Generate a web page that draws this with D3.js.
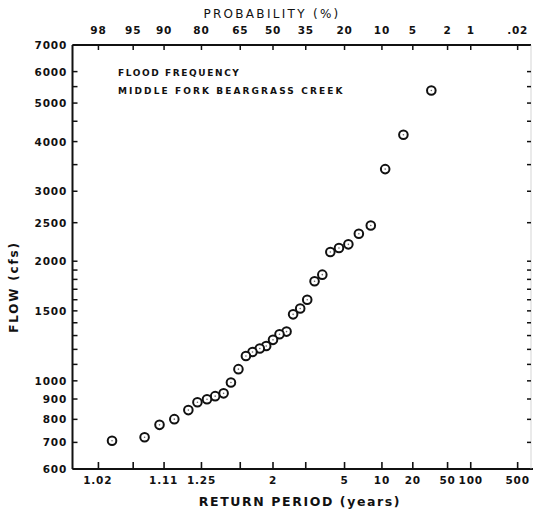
<!DOCTYPE html>
<html>
<head>
<meta charset="utf-8">
<script src="https://cdn.jsdelivr.net/npm/d3@7"></script>
<style>
  body { margin: 0; background: #fff; }
  text { font-family: "DejaVu Sans", sans-serif; font-weight: bold; fill: #111; }
</style>
</head>
<body>
<div class="chart"></div>
<script>
"use strict";

// return period (years) of each ranked flood
var returnPeriod = [32, 16, 10.7, 8, 6.4, 5.33, 4.57, 4, 3.56, 3.2, 2.91, 2.67, 2.46, 2.29, 2.13,
                    2, 1.88, 1.78, 1.68, 1.6, 1.52, 1.45, 1.39, 1.33, 1.28, 1.23, 1.19, 1.14, 1.1, 1.07, 1.03];
// annual peak flow (cfs)
var flow = [5380, 4160, 3410, 2460, 2345, 2205, 2160, 2110, 1850, 1780, 1600, 1520, 1470, 1330, 1310,
            1268, 1224, 1206, 1182, 1155, 1070, 990, 930, 915, 899, 883, 844, 801, 775, 721, 707];

var probTicks = [98, 95, 90, 80, 65, 50, 35, 20, 10, 5, 2, 1, 0.2];
var probLabels = ["98", "95", "90", "80", "65", "50", "35", "20", "10", "5", "2", "1", ".02"];
var periodTicks = [1.02, 1.11, 1.25, 2, 5, 10, 20, 50, 100, 500];
var periodLabels = ["1.02", "1.11", "1.25", "2", "5", "10", "20", "50", "100", "500"];
var flowTicks = [600, 700, 800, 900, 1000, 1500, 2000, 2500, 3000, 4000, 5000, 6000, 7000];
var flowMinor = [1100, 1200, 1300, 1400, 1600, 1700, 1800, 1900, 3500, 4500, 5500];

var width = 534,
    height = 514;
var plotLeft = 72.5, plotRight = 531, plotTop = 45, plotBottom = 469;

// inverse standard normal (Acklam)
function normInv(p) {
  var a = [-39.69683028665376, 220.9460984245205, -275.9285104469687, 138.3577518672690, -30.66479806614716, 2.506628277459239],
      b = [-54.47609879822406, 161.5858368580409, -155.6989798598866, 66.80131188771972, -13.28068155288572],
      c = [-0.007784894002430293, -0.3223964580411365, -2.400758277161838, -2.549732539343734, 4.374664141464968, 2.938163982698783],
      d = [0.007784695709041462, 0.3224671290700398, 2.445134137142996, 3.754408661907416];
  var q, r;
  if (p < 0.02425) {
    q = Math.sqrt(-2 * Math.log(p));
    return (((((c[0]*q+c[1])*q+c[2])*q+c[3])*q+c[4])*q+c[5]) / ((((d[0]*q+d[1])*q+d[2])*q+d[3])*q+1);
  }
  if (p > 1 - 0.02425) {
    q = Math.sqrt(-2 * Math.log(1 - p));
    return -(((((c[0]*q+c[1])*q+c[2])*q+c[3])*q+c[4])*q+c[5]) / ((((d[0]*q+d[1])*q+d[2])*q+d[3])*q+1);
  }
  q = p - 0.5; r = q * q;
  return (((((a[0]*r+a[1])*r+a[2])*r+a[3])*r+a[4])*r+a[5])*q / (((((b[0]*r+b[1])*r+b[2])*r+b[3])*r+b[4])*r+1);
}

// probability paper: position is normal quantile of non-exceedance
var zScale = d3.scaleLinear()
    .domain([-200.5 / 85, 258 / 85])
    .range([plotLeft, plotRight]);
function xT(T) { return zScale(normInv(1 - 1 / T)); }
function xP(P) { return zScale(normInv(1 - P / 100)); }

var y = d3.scaleLog()
    .domain([600, 7000])
    .range([plotBottom, plotTop]);

var svg = d3.select(".chart")
    .append("svg")
    .attr("width", width)
    .attr("height", height);

// frame
svg.append("line")
    .attr("x1", plotLeft).attr("x2", plotLeft).attr("y1", plotTop).attr("y2", plotBottom)
    .attr("stroke", "#111").attr("stroke-width", 2);
svg.append("line")
    .attr("x1", plotLeft).attr("x2", plotRight + 2).attr("y1", plotBottom).attr("y2", plotBottom)
    .attr("stroke", "#111").attr("stroke-width", 2);
svg.append("line")
    .attr("x1", plotLeft).attr("x2", plotRight).attr("y1", plotTop).attr("y2", plotTop)
    .attr("stroke", "#111").attr("stroke-width", 1.8);
svg.append("line")
    .attr("x1", plotRight).attr("x2", plotRight).attr("y1", plotTop).attr("y2", plotBottom)
    .attr("stroke", "#bbb").attr("stroke-width", 0.6);

// bottom & top ticks
svg.append("g").selectAll("line")
    .data(probTicks).enter().append("line")
    .attr("x1", xP).attr("x2", xP)
    .attr("y1", plotBottom).attr("y2", plotBottom - 7)
    .attr("stroke", "#111").attr("stroke-width", 1.6);
svg.append("g").selectAll("line")
    .data(probTicks).enter().append("line")
    .attr("x1", xP).attr("x2", xP)
    .attr("y1", plotTop).attr("y2", plotTop + 5)
    .attr("stroke", "#111").attr("stroke-width", 1.5);

svg.append("g").selectAll("text")
    .data(periodTicks).enter().append("text")
    .attr("x", xT)
    .attr("y", 484)
    .attr("text-anchor", "middle")
    .style("font-size", "10.5px")
    .style("letter-spacing", "0.8px")
    .text(function(d, i){ return periodLabels[i]; });

svg.append("g").selectAll("text")
    .data(probTicks).enter().append("text")
    .attr("x", xP)
    .attr("y", 34)
    .attr("text-anchor", "middle")
    .style("font-size", "10.5px")
    .style("letter-spacing", "0.8px")
    .text(function(d, i){ return probLabels[i]; });

// left & right ticks
svg.append("g").selectAll("line")
    .data(flowTicks.concat(flowMinor)).enter().append("line")
    .attr("x1", plotLeft).attr("x2", plotLeft + 5)
    .attr("y1", y).attr("y2", y)
    .attr("stroke", "#111").attr("stroke-width", 1.5);
svg.append("g").selectAll("line")
    .data(flowTicks.slice(1, -1).concat(flowMinor)).enter().append("line")
    .attr("x1", plotRight - 4).attr("x2", plotRight)
    .attr("y1", y).attr("y2", y)
    .attr("stroke", "#111").attr("stroke-width", 1.5);

svg.append("g").selectAll("text")
    .data(flowTicks).enter().append("text")
    .attr("x", 67)
    .attr("y", function(d){ return y(d) + 4; })
    .attr("text-anchor", "end")
    .style("font-size", "10.5px")
    .style("letter-spacing", "0.8px")
    .text(function(d){ return d; });

// axis titles
svg.append("text")
    .attr("x", 272).attr("y", 18)
    .attr("text-anchor", "middle")
    .style("font-size", "12px")
    .style("font-weight", "normal")
    .style("letter-spacing", "2.3px")
    .text("PROBABILITY (%)");

svg.append("text")
    .attr("x", 300).attr("y", 506)
    .attr("text-anchor", "middle")
    .style("font-size", "12.5px")
    .style("letter-spacing", "1.6px")
    .text("RETURN PERIOD (years)");

svg.append("text")
    .attr("transform", "translate(18,287) rotate(-90)")
    .attr("text-anchor", "middle")
    .style("font-size", "12px")
    .style("letter-spacing", "1.8px")
    .text("FLOW (cfs)");

// annotation
svg.append("text")
    .attr("x", 118).attr("y", 76)
    .style("font-size", "9px")
    .style("letter-spacing", "1.6px")
    .text("FLOOD FREQUENCY");
svg.append("text")
    .attr("x", 118).attr("y", 94)
    .style("font-size", "9px")
    .style("letter-spacing", "2.1px")
    .text("MIDDLE FORK BEARGRASS CREEK");

// data points
var points = svg.append("g")
    .selectAll("g")
    .data(flow).enter().append("g")
    .attr("transform", function(d, i){ return "translate(" + xT(returnPeriod[i]) + "," + y(d) + ")"; });

points.append("circle")
    .attr("r", 4.3)
    .attr("fill", "#fff")
    .attr("stroke", "#111")
    .attr("stroke-width", 2);
points.append("circle")
    .attr("r", 0.8)
    .attr("fill", "#666");
</script>
</body>
</html>
